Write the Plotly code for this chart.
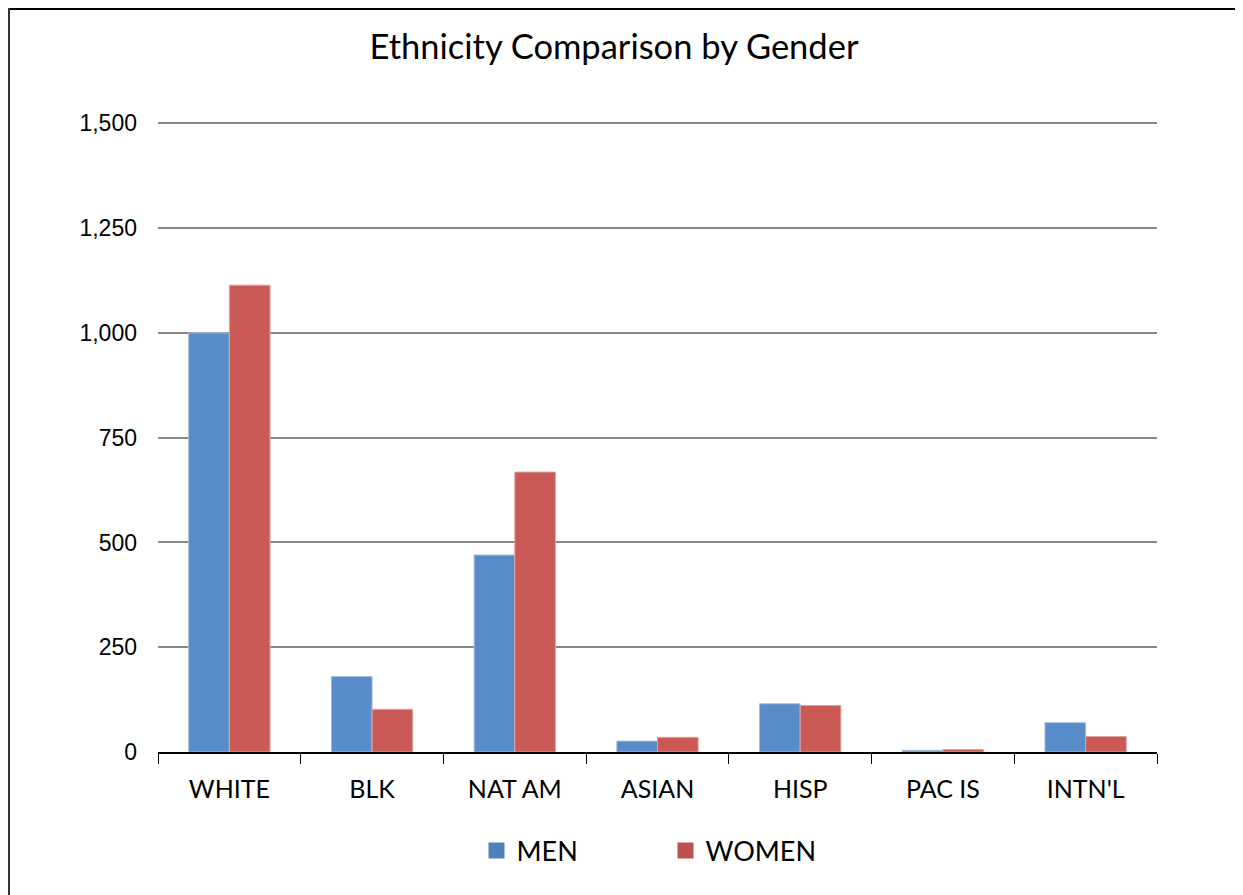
import plotly.graph_objects as go

categories = ["WHITE", "BLK", "NAT AM", "ASIAN", "HISP", "PAC IS", "INTN'L"]
men = [1000, 180, 470, 26, 115, 4, 70]
women = [1114, 102, 668, 35, 111, 6, 37]
y_ticks = [0, 250, 500, 750, 1000, 1250, 1500]
y_tick_labels = ["0", "250", "500", "750", "1,000", "1,250", "1,500"]

MEN_COLOR, WOMEN_COLOR = "#588BC9", "#CB5A56"
OFF = 8  # page body margin
W, H = 1243 - OFF, 895 - OFF
YMAX = 1520
scale = 629 / 1500  # px per unit
L, R, B = 158 - OFF, 86, 143
T = round(752 - YMAX * scale) - OFF
pw, ph = W - L - R, H - T - B

def px(x):
    return (x - OFF - L) / pw

def py(y):
    return (H - B - (y - OFF)) / ph

fig = go.Figure()
fig.add_trace(go.Bar(name="MEN", x=categories, y=men, showlegend=False,
                     marker=dict(color=MEN_COLOR, line=dict(color="#A9BCD6", width=1))))
fig.add_trace(go.Bar(name="WOMEN", x=categories, y=women, showlegend=False,
                     marker=dict(color=WOMEN_COLOR, line=dict(color="#D9A7A5", width=1))))
for name, col in [("MEN", "#4F81BD"), ("WOMEN", "#C0504D")]:
    fig.add_trace(go.Scatter(name=name, x=[None], y=[None], mode="markers",
                             marker=dict(symbol="square", size=16, color=col)))

fig.update_layout(
    width=W, height=H,
    margin=dict(l=L, r=R, t=T, b=B, autoexpand=False),
    paper_bgcolor="white", plot_bgcolor="white",
    barmode="group", bargap=0.43, bargroupgap=0,
    title=dict(text="Ethnicity Comparison by Gender", x=(614 - OFF) / W, xanchor="center",
               y=1 - (47 - OFF) / H, yanchor="middle",
               font=dict(family="Lato", size=34.5, color="black")),
    showlegend=True,
    legend=dict(orientation="h", x=0.5 + 8 / pw, xanchor="center", y=py(851), yanchor="middle",
                font=dict(family="Lato", size=27, color="black"),
                entrywidth=144, entrywidthmode="pixels"),
    xaxis=dict(showline=True, linecolor="black", linewidth=2,
               ticks="outside", tickson="boundaries", ticklen=10, tickcolor="black", tickwidth=1,
               tickfont=dict(family="Lato", size=25, color="black"),
               ticklabelstandoff=14, showgrid=False, zeroline=False),
    yaxis=dict(range=[0, YMAX], tickvals=y_ticks, ticktext=y_tick_labels,
               showgrid=True, gridcolor="#878787", gridwidth=2,
               showline=False, zeroline=False, ticks="",
               tickfont=dict(family="Liberation Sans", size=23, color="black"),
               ticklabelstandoff=20),
    shapes=[
        dict(type="line", xref="paper", yref="paper", x0=px(OFF), x1=px(1243), y0=py(OFF + 1), y1=py(OFF + 1),
             line=dict(color="black", width=2)),
        dict(type="line", xref="paper", yref="paper", x0=px(OFF + 1), x1=px(OFF + 1), y0=py(OFF), y1=py(895),
             line=dict(color="#333333", width=2)),
    ],
)

fig.write_html("out.html")
